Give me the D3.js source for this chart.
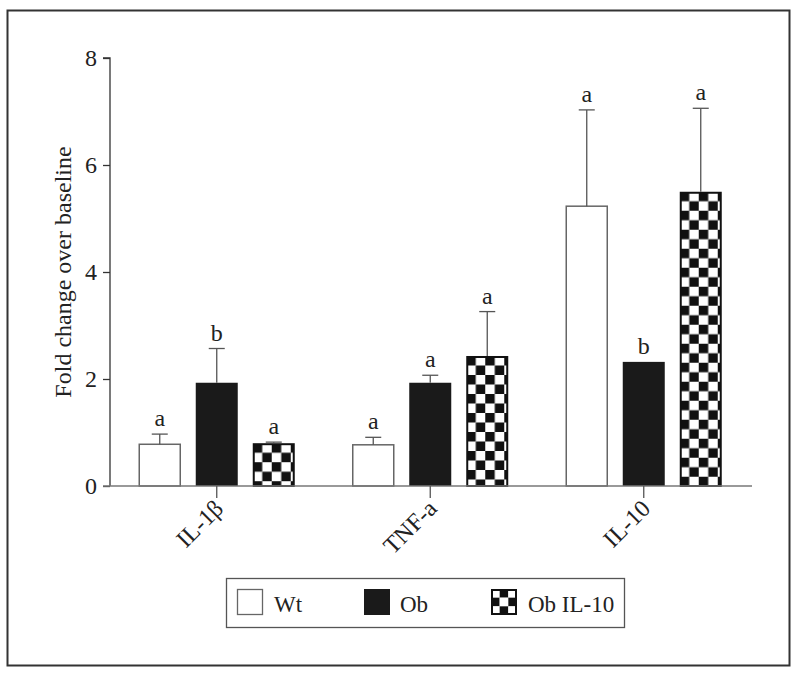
<!DOCTYPE html>
<html>
<head>
<meta charset="utf-8">
<script src="https://cdn.jsdelivr.net/npm/d3@7"></script>
<style>
  html, body { margin: 0; padding: 0; background: #fff; }
  svg { display: block; }
  text { font-family: "Liberation Serif", "DejaVu Serif", serif; fill: #222; }
</style>
</head>
<body>
<svg id="chart" width="800" height="676"></svg>
<script>
// ---- data ----
const categories = ["IL-1\u03b2", "TNF-a", "IL-10"];
const series = ["Wt", "Ob", "Ob IL-10"];
const wtValues     = [0.78, 0.77, 5.23];
const obValues     = [1.93, 1.93, 2.32];
const obIL10Values = [0.80, 2.43, 5.50];
const wtErr        = [0.19, 0.14, 1.80];
const obErr        = [0.64, 0.14, 0.00];
const obIL10Err    = [0.02, 0.83, 1.56];
const wtLetters     = ["a", "a", "a"];
const obLetters     = ["b", "a", "b"];
const obIL10Letters = ["a", "a", "a"];
const yTicks = [0, 2, 4, 6, 8];
const yLabel = "Fold change over baseline";

const valuesBySeries = [wtValues, obValues, obIL10Values];
const errBySeries = [wtErr, obErr, obIL10Err];
const lettersBySeries = [wtLetters, obLetters, obIL10Letters];

const data = [];
categories.forEach((c, ci) => {
  series.forEach((s, si) => {
    data.push({ cat: c, ser: s, si, v: valuesBySeries[si][ci], e: errBySeries[si][ci], l: lettersBySeries[si][ci], id: ci * 3 + si });
  });
});

const svg = d3.select("#chart");

// outer frame
svg.append("rect").attr("x", 7.5).attr("y", 10.5).attr("width", 782).attr("height", 655)
  .attr("fill", "none").attr("stroke", "#333").attr("stroke-width", 2);

const axisX = 110, baseY = 486, topY = 58, axisEnd = 752;

const y = d3.scaleLinear().domain([0, 8]).range([baseY, topY]);
const x0 = d3.scaleBand().domain(categories).range([axisX, axisX + 640.5]).padding(0);
const x1 = d3.scaleBand().domain(series).range([-85.5, 85.5]).paddingInner(15 / 57).paddingOuter(15 / 114);

const barX = d => x0(d.cat) + x0.bandwidth() / 2 + x1(d.ser);
const bw = x1.bandwidth();

const defs = svg.append("defs");
const cell = 9.5;
function addChecker(id, px, py, c) {
  const p = defs.append("pattern").attr("id", id).attr("patternUnits", "userSpaceOnUse")
    .attr("x", px).attr("y", py).attr("width", c * 2).attr("height", c * 2);
  p.append("rect").attr("width", c * 2).attr("height", c * 2).attr("fill", "#fff");
  p.append("rect").attr("x", 0).attr("y", 0).attr("width", c).attr("height", c).attr("fill", "#111");
  p.append("rect").attr("x", c).attr("y", c).attr("width", c).attr("height", c).attr("fill", "#111");
}

// bars
const g = svg.append("g");
data.forEach(d => {
  const bx = barX(d), by = y(d.v), bh = baseY - y(d.v);
  if (d.si === 0) {
    g.append("rect").attr("x", bx + 0.5).attr("y", by).attr("width", bw - 1).attr("height", bh)
      .attr("fill", "#fff").attr("stroke", "#666").attr("stroke-width", 1.5);
  } else if (d.si === 1) {
    g.append("rect").attr("x", bx).attr("y", by).attr("width", bw).attr("height", bh)
      .attr("fill", "#1a1a1a");
  } else {
    const pid = "chk" + d.id;
    addChecker(pid, bx, by, cell);
    g.append("rect").attr("x", bx + 1).attr("y", by + 1).attr("width", bw - 2).attr("height", bh - 1)
      .attr("fill", `url(#${pid})`).attr("stroke", "#111").attr("stroke-width", 2);
  }
  // error bar (upper only)
  const cx = bx + bw / 2;
  if (d.e > 0) {
    g.append("line").attr("x1", cx).attr("x2", cx).attr("y1", by).attr("y2", y(d.v + d.e))
      .attr("stroke", "#555").attr("stroke-width", 1.3);
    g.append("line").attr("x1", cx - 8).attr("x2", cx + 8).attr("y1", y(d.v + d.e)).attr("y2", y(d.v + d.e))
      .attr("stroke", "#555").attr("stroke-width", 1.3);
  }
  g.append("text").attr("x", cx).attr("y", y(d.v + d.e) - 8).attr("text-anchor", "middle")
    .attr("font-size", 24).text(d.l);
});

// y axis
const yAxis = svg.append("g").attr("transform", `translate(${axisX},0)`)
  .call(d3.axisLeft(y).tickValues(yTicks).tickSize(7).tickPadding(6).tickFormat(d3.format("d")));
yAxis.select(".domain").attr("stroke", "#333").attr("stroke-width", 1.3).attr("d", `M-7,${topY}H0V${baseY}`);
yAxis.selectAll(".tick line").attr("stroke", "#333").attr("stroke-width", 1.3);
yAxis.selectAll(".tick text").attr("font-size", 24).attr("font-family", "Liberation Serif, serif").attr("fill", "#222");

// x axis
const xAxis = svg.append("g").attr("transform", `translate(0,${baseY})`)
  .call(d3.axisBottom(x0).tickSize(12).tickPadding(4));
xAxis.select(".domain").attr("stroke", "#777").attr("stroke-width", 1.5).attr("d", `M${axisX - 7},0H${axisEnd}`);
xAxis.selectAll(".tick line").attr("stroke", "#555").attr("stroke-width", 1.3);
xAxis.selectAll(".tick text").attr("font-size", 24).attr("font-family", "Liberation Serif, serif").attr("fill", "#222")
  .attr("text-anchor", "end").attr("dy", 0).attr("transform", "translate(8,24) rotate(-45)").attr("y", 0).attr("x", 0);

// y label
svg.append("text").attr("transform", `translate(71,${(baseY + topY) / 2}) rotate(-90)`)
  .attr("text-anchor", "middle").attr("font-size", 24).text(yLabel);

// legend
const lg = svg.append("g");
lg.append("rect").attr("x", 226.5).attr("y", 578.5).attr("width", 398).attr("height", 49)
  .attr("fill", "#fff").attr("stroke", "#555").attr("stroke-width", 1.3);
const legX = [237, 364, 491];
const textX = [274, 400, 528];
const sw = 26, swY = 589;
series.forEach((s, i) => {
  if (i === 0) {
    lg.append("rect").attr("x", legX[i] + 0.5).attr("y", swY + 0.5).attr("width", sw - 1).attr("height", sw - 1)
      .attr("fill", "#fff").attr("stroke", "#666").attr("stroke-width", 1.3);
  } else if (i === 1) {
    lg.append("rect").attr("x", legX[i]).attr("y", swY).attr("width", sw).attr("height", sw).attr("fill", "#1a1a1a");
  } else {
    const c = sw / 3;
    const cells = d3.range(9);
    lg.selectAll(null).data(cells).enter().append("rect")
      .attr("x", k => legX[i] + (k % 3) * c).attr("y", k => swY + Math.floor(k / 3) * c)
      .attr("width", c).attr("height", c)
      .attr("fill", k => ((k % 3) + Math.floor(k / 3)) % 2 === 1 ? "#111" : "#fff");
    lg.append("rect").attr("x", legX[i] + 1).attr("y", swY + 1).attr("width", sw - 2).attr("height", sw - 2)
      .attr("fill", "none").attr("stroke", "#111").attr("stroke-width", 2);
  }
  lg.append("text").attr("x", textX[i]).attr("y", 612).attr("font-size", 23).text(s);
});
</script>
</body>
</html>
